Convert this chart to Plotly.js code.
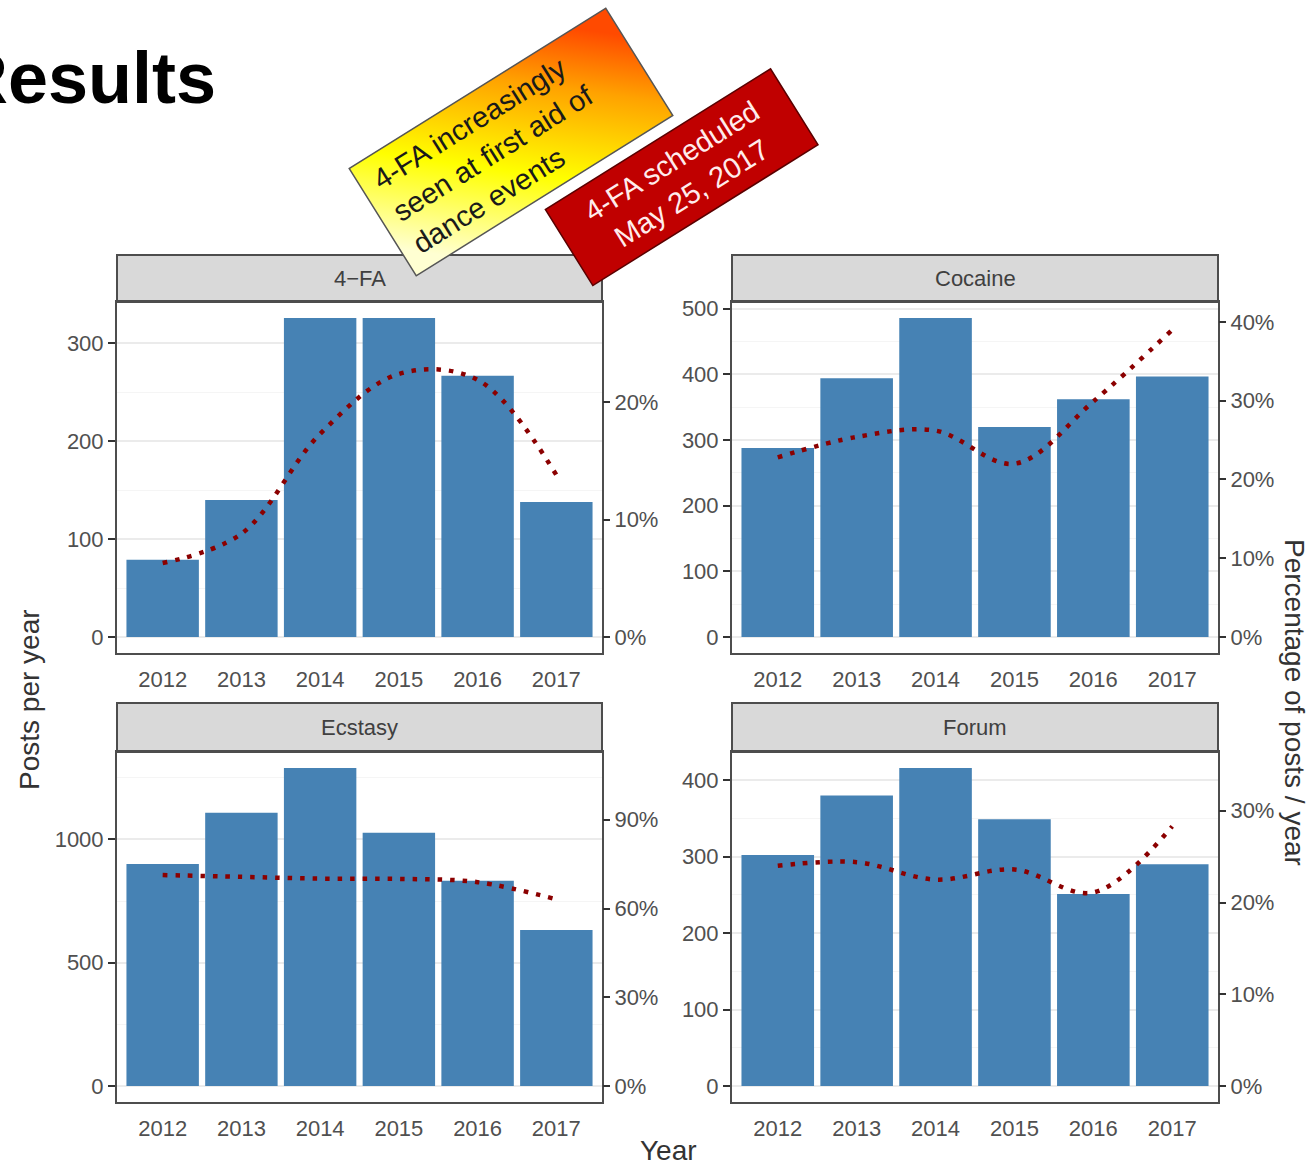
<!DOCTYPE html>
<html>
<head>
<meta charset="utf-8">
<script src="https://cdn.plot.ly/plotly-3.0.1.min.js"></script>
<style>
html,body{margin:0;padding:0;background:#ffffff;}
#chart{width:1311px;height:1168px;}
</style>
</head>
<body>
<div id="chart"></div>
<script>
// ---------------- data ----------------
const years = ['2012', '2013', '2014', '2015', '2016', '2017'];
const panelNames = ['4\u2212FA', 'Cocaine', 'Ecstasy', 'Forum'];

const posts4FA     = [79, 140, 326, 326, 267, 138];
const postsCocaine = [288, 394, 486, 320, 362, 397];
const postsEcstasy = [900, 1108, 1290, 1027, 833, 633];
const postsForum   = [302, 380, 416, 349, 251, 290];

const pct4FA     = [6.3, 8.8, 17.3, 22.4, 21.9, 13.8];
const pctCocaine = [22.8, 25.4, 26.2, 22.0, 29.9, 39.0];
const pctEcstasy = [71.3, 70.7, 70.1, 70.0, 68.9, 63.1];
const pctForum   = [24.0, 24.4, 22.5, 23.6, 21.1, 28.3];

const leftTickStep  = [100, 100, 500, 100];
const rightTickVals = [[0, 10, 20], [0, 10, 20, 30, 40], [0, 30, 60, 90], [0, 10, 20, 30]];

const titleText  = 'Results';
const yLeftTitle = 'Posts per year';
const yRightTitle = 'Percentage of posts / year';
const xTitle     = 'Year';
const note1Text  = '4-FA increasingly<br>seen at first aid of<br>dance events';
const note2Text  = '4-FA scheduled<br>May 25, 2017';

// secondary axis: percent = posts / 12
const secFactor = 1 / 12;

// ---------------- layout helpers ----------------
const W = 1311, H = 1168;
const px = v => v / W;
const py = v => 1 - v / H;

const postsList = [posts4FA, postsCocaine, postsEcstasy, postsForum];
const pctList = [pct4FA, pctCocaine, pctEcstasy, pctForum];

const geom = [
  {x0: 117, x1: 602, top: 302, bot: 653, strip: 255},
  {x0: 732, x1: 1218, top: 302, bot: 653, strip: 255},
  {x0: 117, x1: 602, top: 752, bot: 1102, strip: 703},
  {x0: 732, x1: 1218, top: 752, bot: 1102, strip: 703}
];

const FONT = 'Liberation Sans, Arial, Helvetica, sans-serif';
const tickFont = {family: FONT, size: 22, color: '#505050'};
const borderCol = '#4d4d4d';

const traces = [];
const layout = {
  width: W, height: H,
  margin: {l: 0, r: 0, t: 0, b: 0},
  paper_bgcolor: '#ffffff',
  plot_bgcolor: '#ffffff',
  showlegend: false,
  bargap: 0.08,
  font: {family: FONT},
  shapes: [],
  annotations: []
};

for (let i = 0; i < 4; i++) {
  const g = geom[i];
  const xName = i === 0 ? 'x' : 'x' + (i + 1);
  const yL = 2 * i + 1, yR = 2 * i + 2;
  const yLName = yL === 1 ? 'y' : 'y' + yL;
  const yRName = 'y' + yR;
  const xKey = i === 0 ? 'xaxis' : 'xaxis' + (i + 1);
  const yLKey = yL === 1 ? 'yaxis' : 'yaxis' + yL;
  const yRKey = 'yaxis' + yR;

  const maxV = Math.max(...postsList[i]);
  const lRange = [-0.05 * maxV, 1.05 * maxV];
  const rRange = [lRange[0] * secFactor, lRange[1] * secFactor];
  const step = leftTickStep[i];

  traces.push({
    type: 'bar', x: years, y: postsList[i],
    xaxis: xName, yaxis: yLName,
    marker: {color: '#4682b4', line: {width: 0}},
    hoverinfo: 'skip'
  });
  traces.push({
    type: 'scatter', mode: 'lines', x: years, y: pctList[i],
    xaxis: xName, yaxis: yRName,
    line: {color: '#8b0000', width: 4.5, dash: '4.5px,8px', shape: 'spline', smoothing: 1},
    hoverinfo: 'skip'
  });

  layout[xKey] = {
    domain: [px(g.x0), px(g.x1)], anchor: yLName,
    type: 'category', range: [-0.58, 5.58],
    showgrid: false, zeroline: false,
    ticks: 'outside', ticklen: 6, tickcolor: 'rgba(0,0,0,0)',
    tickfont: tickFont,
    showline: true, mirror: true, linecolor: borderCol, linewidth: 2,
    fixedrange: true
  };
  layout[yLKey] = {
    domain: [py(g.bot), py(g.top)], anchor: xName,
    range: lRange, tick0: 0, dtick: step,
    ticks: 'outside', ticklen: 7, tickwidth: 2, tickcolor: '#333333',
    tickfont: tickFont,
    showgrid: true, gridcolor: '#ebebeb', gridwidth: 2,
    minor: {dtick: step / 2, tick0: 0, showgrid: true, gridcolor: '#f5f5f5', gridwidth: 1, ticks: ''},
    zeroline: false,
    showline: true, mirror: true, linecolor: borderCol, linewidth: 2,
    fixedrange: true
  };
  layout[yRKey] = {
    overlaying: yLName, side: 'right', anchor: xName,
    range: rRange, tickmode: 'array', tickvals: rightTickVals[i],
    ticktext: rightTickVals[i].map(v => v + '%'),
    ticks: 'outside', ticklen: 7, tickwidth: 2, tickcolor: '#333333',
    tickfont: tickFont,
    showgrid: false, zeroline: false, showline: false,
    fixedrange: true
  };

  // facet strip
  layout.shapes.push({
    type: 'rect', xref: 'paper', yref: 'paper', layer: 'below',
    x0: px(g.x0), x1: px(g.x1), y0: py(g.top), y1: py(g.strip),
    fillcolor: '#d9d9d9', line: {color: borderCol, width: 2}
  });
  layout.annotations.push({
    xref: 'paper', yref: 'paper',
    x: px((g.x0 + g.x1) / 2), y: py((g.top + g.strip) / 2),
    xanchor: 'center', yanchor: 'middle', showarrow: false,
    text: panelNames[i], font: {family: FONT, size: 22, color: '#404040'}
  });
}

// titles
layout.annotations.push(
  {xref: 'paper', yref: 'paper', x: px(-46), y: py(78), xanchor: 'left', yanchor: 'middle',
   showarrow: false, text: '<b>' + titleText + '</b>', font: {family: FONT, size: 72, color: '#000000'}},
  {xref: 'paper', yref: 'paper', x: px(29), y: py(700), xanchor: 'center', yanchor: 'middle',
   showarrow: false, textangle: -90, text: yLeftTitle, font: {family: FONT, size: 28, color: '#333333'}},
  {xref: 'paper', yref: 'paper', x: px(668), y: py(1150), xanchor: 'center', yanchor: 'middle',
   showarrow: false, text: xTitle, font: {family: FONT, size: 28, color: '#333333'}},
  {xref: 'paper', yref: 'paper', x: px(1295), y: py(702), xanchor: 'center', yanchor: 'middle',
   showarrow: false, textangle: 90, text: yRightTitle, font: {family: FONT, size: 28, color: '#333333'}}
);

// callout boxes
const note1BgIndex = layout.annotations.length;
layout.annotations.push(
  {xref: 'paper', yref: 'paper', x: px(511), y: py(142), xanchor: 'center', yanchor: 'middle',
   showarrow: false, textangle: -32, text: '', width: 301, height: 125,
   bgcolor: '#ffd400', bordercolor: '#555555', borderwidth: 1.5, borderpad: 0},
  {xref: 'paper', yref: 'paper', x: px(511), y: py(142), xanchor: 'center', yanchor: 'middle',
   showarrow: false, textangle: -32, text: note1Text, width: 272, height: 120, align: 'left',
   font: {family: FONT, size: 29, color: '#1a1a1a'}},
  {xref: 'paper', yref: 'paper', x: px(681), y: py(177), xanchor: 'center', yanchor: 'middle',
   showarrow: false, textangle: -32, text: note2Text, width: 264, height: 88, align: 'center',
   bgcolor: '#c00000', bordercolor: '#5a0000', borderwidth: 1.5, borderpad: 0,
   font: {family: FONT, size: 29, color: '#ffecec'}}
);

Plotly.newPlot('chart', traces, layout, {displayModeBar: false, staticPlot: true}).then(function (gd) {
  // gradient fill for the yellow callout box
  const svg = gd.querySelector('svg.main-svg');
  const NS = 'http://www.w3.org/2000/svg';
  let defs = svg.querySelector('defs');
  if (!defs) { defs = document.createElementNS(NS, 'defs'); svg.insertBefore(defs, svg.firstChild); }
  const lg = document.createElementNS(NS, 'linearGradient');
  lg.setAttribute('id', 'note1grad');
  lg.setAttribute('x1', '0'); lg.setAttribute('y1', '0.75');
  lg.setAttribute('x2', '1'); lg.setAttribute('y2', '0.25');
  [['0', '#ffffd2'], ['0.38', '#ffff00'], ['0.75', '#ffa200'], ['1', '#ff4a00']].forEach(function (s) {
    const st = document.createElementNS(NS, 'stop');
    st.setAttribute('offset', s[0]); st.setAttribute('stop-color', s[1]);
    lg.appendChild(st);
  });
  defs.appendChild(lg);
  const ann = gd.querySelector('.annotation[data-index="' + note1BgIndex + '"] rect.bg');
  if (ann) { ann.style.fill = 'url(#note1grad)'; ann.style.fillOpacity = '1'; }
});
</script>
</body>
</html>
